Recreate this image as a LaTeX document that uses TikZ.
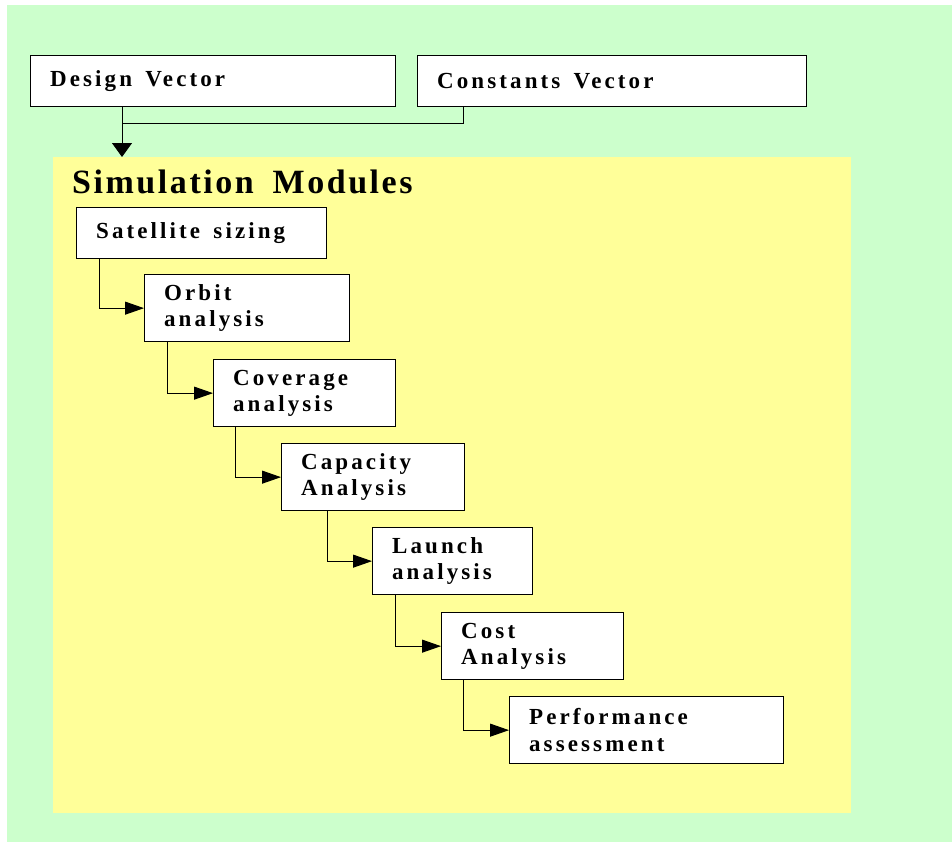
\documentclass[tikz,border=0pt]{standalone}
\usepackage{fontspec}
\setmainfont{Liberation Serif}
\newfontfamily\boxfont{Liberation Serif}[LetterSpace=13.5,WordSpace=1.5]
\newfontfamily\headfont{Liberation Serif}[LetterSpace=7.5,WordSpace=1.7]
\usetikzlibrary{arrows.meta}
\definecolor{bggreen}{HTML}{CCFFCC}
\definecolor{bgyellow}{HTML}{FFFF99}
\tikzset{
  module/.style={draw, line width=1.3pt, fill=white, anchor=north west,
    inner xsep=19.5pt, inner ysep=0pt, minimum height=67pt, text width=#1,
    align=flush left, font=\boxfont\bfseries\fontsize{23}{26.5}\selectfont},
  flow/.style={line width=1pt, -{Triangle[length=19pt,width=13pt]}},
  feed/.style={line width=1pt, -{Triangle[length=14pt,width=20pt]}},
}

\begin{document}
\begin{tikzpicture}[x=1pt, y=-1pt]
		%%%%% START %%%%%
		\useasboundingbox (0,0) rectangle (952,843);
		\fill[bggreen] (7,5) rectangle (952,842);
		\node[fill=bgyellow, anchor=north west, minimum width=798pt, minimum height=656pt, inner sep=0pt] (sim) at (53,157) {};
		\node[anchor=base west, inner sep=0pt, font=\headfont\bfseries\fontsize{34}{40}\selectfont] (simtitle) at (72,193) {Simulation Modules};
		
		\node[module=326pt, minimum height=51pt] (design) at (30,55) {Design Vector};
		\node[module=350pt, minimum height=51pt] (cons) at (417,55) {Constants Vector};
		
		\coordinate (join) at (122,123);
		\coordinate (consfoot) at (463,123);
		\draw[line width=1pt] (cons.south -| consfoot) -- (consfoot) -- (join);
		\draw[feed] (design.south -| join) -- (sim.north -| join);
		
		\node[module=211pt, minimum height=51pt] (sat) at (76,207) {Satellite sizing};
		\node[module=166pt] (orbit) at (144,274) {Orbit\\analysis};
		\node[module=143pt] (cover) at (213,359) {Coverage\\analysis};
		\node[module=144pt] (capac) at (281,443) {Capacity\\Analysis};
		\node[module=121pt] (launch) at (372,527) {Launch\\analysis};
		\node[module=143pt] (cost) at (441,612) {Cost\\Analysis};
		\node[module=235pt] (perf) at (509,696) {Performance\\assessment};
		
		\draw[flow] (sat.south west) ++(23,0) |- (orbit.west);
		\draw[flow] (orbit.south west) ++(23,0) |- (cover.west);
		\draw[flow] (cover.south west) ++(22,0) |- (capac.west);
		\draw[flow] (capac.south west) ++(46,0) |- (launch.west);
		\draw[flow] (launch.south west) ++(23,0) |- (cost.west);
		\draw[flow] (cost.south west) ++(22,0) |- (perf.west);
		%%%%% END %%%%%
\end{tikzpicture}
\end{document}
